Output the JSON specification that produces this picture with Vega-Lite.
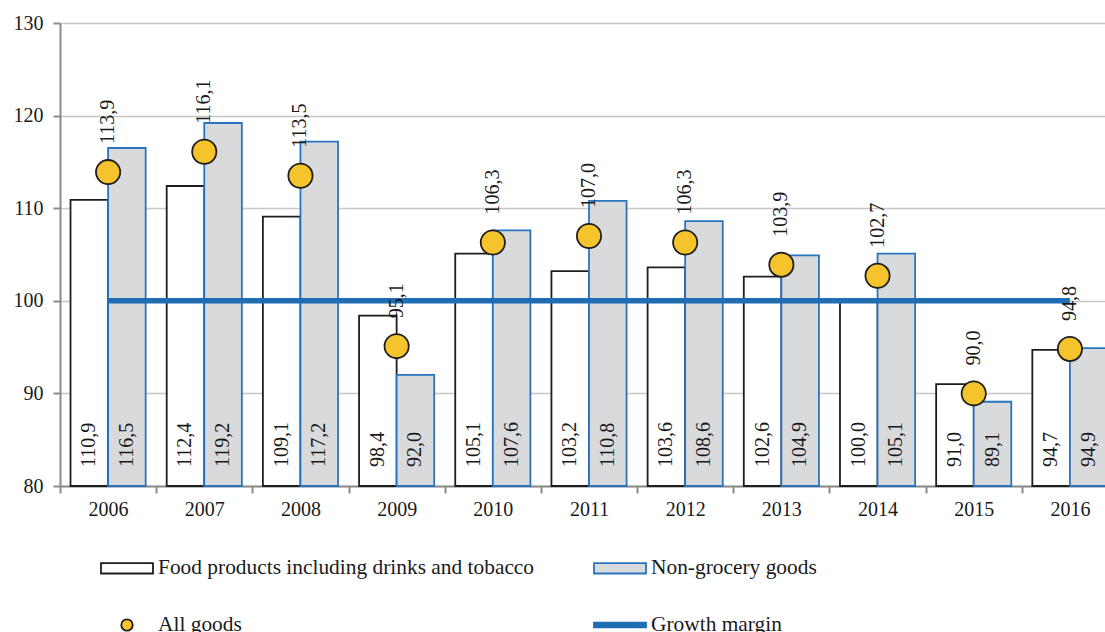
{
  "$schema": "https://vega.github.io/schema/vega-lite/v6.json",
  "width": 1045,
  "height": 463,
  "autosize": {"type": "none"},
  "padding": {"left": 60, "top": 23, "right": 0, "bottom": 146},
  "config": {
    "locale": {"number": {"decimal": ",", "thousands": " ", "grouping": [3], "currency": ["", ""]}},
    "font": "Liberation Serif",
    "view": {"stroke": null},
    "text": {"font": "Liberation Serif", "fontSize": 20, "color": "#1a1a1a"}
  },
  "datasets": {
    "bars": [
      {"year": "2006", "series": "Food products including drinks and tobacco", "value": 110.9},
      {"year": "2006", "series": "Non-grocery goods", "value": 116.5},
      {"year": "2007", "series": "Food products including drinks and tobacco", "value": 112.4},
      {"year": "2007", "series": "Non-grocery goods", "value": 119.2},
      {"year": "2008", "series": "Food products including drinks and tobacco", "value": 109.1},
      {"year": "2008", "series": "Non-grocery goods", "value": 117.2},
      {"year": "2009", "series": "Food products including drinks and tobacco", "value": 98.4},
      {"year": "2009", "series": "Non-grocery goods", "value": 92.0},
      {"year": "2010", "series": "Food products including drinks and tobacco", "value": 105.1},
      {"year": "2010", "series": "Non-grocery goods", "value": 107.6},
      {"year": "2011", "series": "Food products including drinks and tobacco", "value": 103.2},
      {"year": "2011", "series": "Non-grocery goods", "value": 110.8},
      {"year": "2012", "series": "Food products including drinks and tobacco", "value": 103.6},
      {"year": "2012", "series": "Non-grocery goods", "value": 108.6},
      {"year": "2013", "series": "Food products including drinks and tobacco", "value": 102.6},
      {"year": "2013", "series": "Non-grocery goods", "value": 104.9},
      {"year": "2014", "series": "Food products including drinks and tobacco", "value": 100.0},
      {"year": "2014", "series": "Non-grocery goods", "value": 105.1},
      {"year": "2015", "series": "Food products including drinks and tobacco", "value": 91.0},
      {"year": "2015", "series": "Non-grocery goods", "value": 89.1},
      {"year": "2016", "series": "Food products including drinks and tobacco", "value": 94.7},
      {"year": "2016", "series": "Non-grocery goods", "value": 94.9}
    ],
    "total": [
      {"year": "2006", "series": "All goods", "value": 113.9},
      {"year": "2007", "series": "All goods", "value": 116.1},
      {"year": "2008", "series": "All goods", "value": 113.5},
      {"year": "2009", "series": "All goods", "value": 95.1},
      {"year": "2010", "series": "All goods", "value": 106.3},
      {"year": "2011", "series": "All goods", "value": 107.0},
      {"year": "2012", "series": "All goods", "value": 106.3},
      {"year": "2013", "series": "All goods", "value": 103.9},
      {"year": "2014", "series": "All goods", "value": 102.7},
      {"year": "2015", "series": "All goods", "value": 90.0},
      {"year": "2016", "series": "All goods", "value": 94.8}
    ],
    "margin": [
      {"year": "2006", "series": "Growth margin", "value": 100},
      {"year": "2007", "series": "Growth margin", "value": 100},
      {"year": "2008", "series": "Growth margin", "value": 100},
      {"year": "2009", "series": "Growth margin", "value": 100},
      {"year": "2010", "series": "Growth margin", "value": 100},
      {"year": "2011", "series": "Growth margin", "value": 100},
      {"year": "2012", "series": "Growth margin", "value": 100},
      {"year": "2013", "series": "Growth margin", "value": 100},
      {"year": "2014", "series": "Growth margin", "value": 100},
      {"year": "2015", "series": "Growth margin", "value": 100},
      {"year": "2016", "series": "Growth margin", "value": 100}
    ]
  },
  "encoding": {
    "x": {
      "field": "year",
      "type": "nominal",
      "scale": {"range": [0, 1058], "paddingInner": 0, "paddingOuter": 0},
      "axis": {
        "title": null,
        "labelAngle": 0,
        "tickBand": "extent",
        "grid": false,
        "domainColor": "#8c8c8c",
        "domainWidth": 2,
        "tickColor": "#8c8c8c",
        "tickWidth": 2,
        "tickSize": 7,
        "labelFont": "Liberation Serif",
        "labelFontSize": 20,
        "labelColor": "#1a1a1a",
        "labelPadding": 6
      }
    }
  },
  "layer": [
    {
      "data": {"name": "bars"},
      "mark": {"type": "bar", "strokeWidth": 1.8},
      "encoding": {
        "xOffset": {
          "field": "series",
          "type": "nominal",
          "scale": {
            "domain": ["Food products including drinks and tobacco", "Non-grocery goods"],
            "paddingInner": 0,
            "paddingOuter": 0.28
          }
        },
        "y": {
          "field": "value",
          "type": "quantitative",
          "scale": {"domain": [80, 130], "zero": false, "nice": false},
          "axis": {
            "title": null,
            "values": [80, 90, 100, 110, 120, 130],
            "grid": true,
            "gridColor": "#c6c6c6",
            "gridWidth": 1.5,
            "domainColor": "#8c8c8c",
            "domainWidth": 2,
            "tickColor": "#8c8c8c",
            "tickWidth": 2,
            "tickSize": 7,
            "labelFont": "Liberation Serif",
            "labelFontSize": 20,
            "labelColor": "#1a1a1a",
            "labelPadding": 10
          }
        },
        "y2": {"datum": 80},
        "fill": {
          "field": "series",
          "type": "nominal",
          "scale": {
            "domain": ["Food products including drinks and tobacco", "Non-grocery goods", "All goods", "Growth margin"],
            "range": ["#ffffff", "#d9dadc", "#f5c42c", "#1f6db5"]
          },
          "legend": {
            "title": null,
            "orient": "none",
            "legendX": 40,
            "legendY": 518,
            "direction": "horizontal",
            "columns": 2,
            "columnPadding": 55,
            "rowPadding": 19,
            "symbolSize": 2704,
            "symbolStrokeWidth": 1.8,
            "symbolOpacity": 1,
            "labelFont": "Liberation Serif",
            "labelFontSize": 21.4,
            "labelColor": "#1a1a1a",
            "labelOffset": 4,
            "labelLimit": 0
          }
        },
        "stroke": {
          "field": "series",
          "type": "nominal",
          "scale": {
            "domain": ["Food products including drinks and tobacco", "Non-grocery goods", "All goods", "Growth margin"],
            "range": ["#1e1e1e", "#2a74bf", "#1e1e1e", "#1f6db5"]
          }
        }
      }
    },
    {
      "data": {"name": "bars"},
      "mark": {"type": "text", "angle": 270, "align": "left", "baseline": "middle", "dx": 19},
      "encoding": {
        "xOffset": {"field": "series", "type": "nominal"},
        "y": {"datum": 80},
        "text": {"field": "value", "type": "quantitative", "format": ".1f"}
      }
    },
    {
      "data": {"name": "margin"},
      "mark": {"type": "line", "strokeWidth": 5.5},
      "encoding": {
        "y": {"field": "value", "type": "quantitative"},
        "stroke": {"field": "series", "type": "nominal"}
      }
    },
    {
      "data": {"name": "total"},
      "mark": {"type": "point", "filled": true, "opacity": 1, "size": 12100, "strokeWidth": 1.8},
      "encoding": {
        "y": {"field": "value", "type": "quantitative"},
        "fill": {"field": "series", "type": "nominal"},
        "stroke": {"field": "series", "type": "nominal"},
        "shape": {
          "field": "series",
          "type": "nominal",
          "scale": {
            "domain": ["Food products including drinks and tobacco", "Non-grocery goods", "All goods", "Growth margin"],
            "range": [
              "M-1,-0.2H1V0.2H-1Z",
              "M-1,-0.2H1V0.2H-1Z",
              "M0.22,0A0.22,0.22 0 1,1 -0.22,0A0.22,0.22 0 1,1 0.22,0Z",
              "M-1,-0.09H1V0.09H-1Z"
            ]
          }
        }
      }
    },
    {
      "data": {"name": "total"},
      "mark": {"type": "text", "angle": 270, "align": "left", "baseline": "middle", "dx": 28},
      "encoding": {
        "y": {"field": "value", "type": "quantitative"},
        "text": {"field": "value", "type": "quantitative", "format": ".1f"}
      }
    }
  ]
}
